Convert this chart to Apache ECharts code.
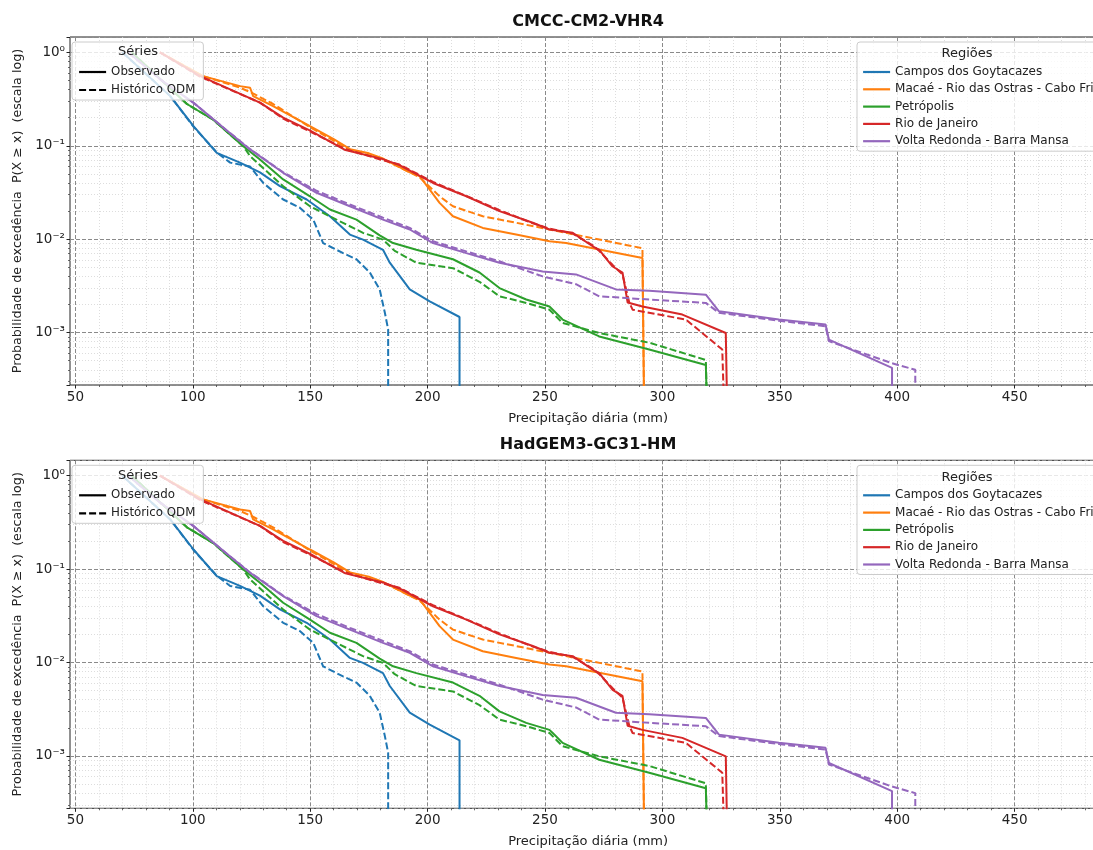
<!DOCTYPE html>
<html>
<head>
<meta charset="utf-8">
<script src="https://cdn.jsdelivr.net/npm/echarts@6/dist/echarts.min.js"></script>
<style>
  html, body { margin: 0; padding: 0; background: #fff; }
  #chart { width: 1093px; height: 850px; }
</style>
</head>
<body>
<div id="chart"></div>
<script>
// ---- labels ----
const panelTitles = ['CMCC-CM2-VHR4', 'HadGEM3-GC31-HM'];
const regions = [
  'Campos dos Goytacazes',
  'Macaé - Rio das Ostras - Cabo Frio',
  'Petrópolis',
  'Rio de Janeiro',
  'Volta Redonda - Barra Mansa'
];
const seriesKinds = ['Observado', 'Histórico QDM'];
const regionColors = ['#1f77b4', '#ff7f0e', '#2ca02c', '#d62728', '#9467bd'];
const xAxisTitle = 'Precipitação diária (mm)';
const yAxisTitle = 'Probabilidade de excedência  P(X \u2265 x)  (escala log)';

// ---- observed exceedance curves [precipitation mm, P(X >= x)] ----
const obsCampos = [[70,1.0],[90.4,0.34],[100.3,0.162],[110.2,0.084],[120.1,0.066],[128.6,0.052],[137.1,0.037],[148.5,0.0266],[158.4,0.0176],[166.9,0.0112],[172.5,0.0099],[181.0,0.0077],[183.9,0.0056],[192.4,0.0029],[200.9,0.00216],[213.6,0.00147],[213.6,1e-4]];
const obsMacae = [[86,1.0],[104.4,0.557],[120.1,0.435],[124.4,0.418],[125.7,0.34],[134.2,0.266],[149.9,0.162],[160,0.118],[167,0.092],[175,0.083],[181,0.073],[192.4,0.052],[196.6,0.0473],[200.9,0.034],[205.1,0.0245],[210.8,0.0176],[223.5,0.0132],[237.7,0.0112],[251.9,0.0095],[259,0.0091],[291.5,0.0063],[292.3,1e-4]];
const obsPetropolis = [[74,1.0],[97.5,0.28],[108.7,0.19],[121.5,0.099],[128.6,0.0714],[138.5,0.0436],[149.9,0.0288],[158.4,0.0208],[169.7,0.0162],[179.6,0.011],[185.3,0.0091],[195.2,0.0077],[210.8,0.0061],[222.1,0.0044],[230.6,0.003],[242,0.00226],[251.9,0.0019],[253.3,0.00176],[257.5,0.00138],[273.1,0.00091],[294.4,0.00066],[318.5,0.00045],[319.2,1e-4]];
const obsRio = [[86,1.0],[103,0.56],[128.6,0.29],[138.5,0.2],[150,0.145],[165,0.09],[181,0.072],[188,0.062],[202.3,0.04],[216.5,0.0288],[230.6,0.02],[244.8,0.015],[251.9,0.0127],[261.8,0.0117],[270.3,0.0084],[273.1,0.0077],[278.8,0.0051],[283,0.0044],[285.2,0.0021],[291.5,0.0019],[308.5,0.00156],[327,0.00099],[327.7,1e-4]];
const obsVolta = [[72.5,1.0],[86.1,0.514],[100.2,0.29],[114.5,0.146],[124.4,0.0914],[138.5,0.0514],[152.7,0.0314],[166.9,0.0225],[181,0.0162],[192.4,0.0127],[202.3,0.0091],[216.5,0.0071],[230.6,0.0056],[249,0.0045],[263.2,0.0042],[280.2,0.0029],[294.4,0.0028],[318.5,0.00255],[324.1,0.00169],[349.6,0.00138],[369.5,0.00122],[370.9,0.00084],[397.8,0.00042],[397.8,1e-4]];

// ---- QDM-corrected historical runs, CMCC-CM2-VHR4 ----
const qdmCmccCampos = [[70,1.0],[90.4,0.34],[100.3,0.16],[110.2,0.085],[115.9,0.066],[124.4,0.06],[130,0.04],[138.5,0.0266],[145.6,0.0217],[151.3,0.0162],[155.5,0.0091],[164,0.0071],[169.7,0.0061],[175.4,0.0044],[179.6,0.0029],[181.8,0.00163],[183.2,0.00108],[183.2,1e-4]];
const qdmCmccMacae = [[86,1.0],[104,0.56],[120,0.42],[125,0.37],[134.2,0.28],[149.9,0.158],[167,0.09],[181,0.072],[192.4,0.052],[196.6,0.046],[205.1,0.0288],[210.8,0.0225],[223.5,0.0176],[237.7,0.015],[251.9,0.0127],[259,0.0117],[291.5,0.008],[292.3,1e-4]];
const qdmCmccPetropolis = [[74,1.0],[97.5,0.28],[108.7,0.19],[121.5,0.099],[124.4,0.0774],[138.5,0.0369],[149.9,0.0225],[161.2,0.0162],[172.5,0.0117],[181,0.0099],[186,0.0075],[195.2,0.0056],[210.8,0.0049],[222.1,0.0035],[230.6,0.00245],[242,0.00208],[251.9,0.00176],[257.5,0.00127],[273.1,0.00099],[294.4,0.00078],[318.5,0.00051],[319.2,1e-4]];
const qdmCmccRio = [[86,1.0],[103,0.55],[128.6,0.29],[138.5,0.195],[150,0.142],[165,0.092],[181,0.07],[188,0.063],[202.3,0.041],[216.5,0.029],[230.6,0.0205],[244.8,0.0148],[251.9,0.013],[261.8,0.0115],[270.3,0.0086],[273.1,0.0075],[278.8,0.0053],[283,0.0042],[285.9,0.0021],[287.3,0.00176],[310,0.00138],[325.5,0.00066],[326.5,1e-4]];
const qdmCmccVolta = [[72.5,1.0],[86.1,0.514],[100.2,0.29],[114.5,0.146],[124.4,0.092],[138.5,0.052],[152.7,0.033],[166.9,0.0235],[181,0.017],[192.4,0.0132],[202.3,0.0095],[216.5,0.0074],[230.6,0.0058],[249,0.004],[263.2,0.0033],[273.1,0.00245],[294.4,0.00226],[318.5,0.00208],[324.1,0.00163],[349.6,0.00134],[369.5,0.00117],[370.9,0.00081],[397.8,0.00047],[407.7,0.0004],[407.7,1e-4]];

// ---- QDM-corrected historical runs, HadGEM3-GC31-HM ----
const qdmHadCampos = [[70,1.0],[90.4,0.34],[100.3,0.16],[110.2,0.085],[115.9,0.066],[124.4,0.06],[130,0.04],[138.5,0.0266],[145.6,0.0217],[151.3,0.0162],[155.5,0.0091],[164,0.0071],[169.7,0.0061],[175.4,0.0044],[179.6,0.0029],[181.8,0.00163],[183.2,0.00108],[183.2,1e-4]];
const qdmHadMacae = [[86,1.0],[104,0.56],[120,0.42],[125,0.37],[134.2,0.28],[149.9,0.158],[167,0.09],[181,0.072],[192.4,0.052],[196.6,0.046],[205.1,0.0288],[210.8,0.0225],[223.5,0.0176],[237.7,0.015],[251.9,0.0127],[259,0.0117],[291.5,0.008],[292.3,1e-4]];
const qdmHadPetropolis = [[74,1.0],[97.5,0.28],[108.7,0.19],[121.5,0.099],[124.4,0.0774],[138.5,0.0369],[149.9,0.0225],[161.2,0.0162],[172.5,0.0117],[181,0.0099],[186,0.0075],[195.2,0.0056],[210.8,0.0049],[222.1,0.0035],[230.6,0.00245],[242,0.00208],[251.9,0.00176],[257.5,0.00127],[273.1,0.00099],[294.4,0.00078],[318.5,0.00051],[319.2,1e-4]];
const qdmHadRio = [[86,1.0],[103,0.55],[128.6,0.29],[138.5,0.195],[150,0.142],[165,0.092],[181,0.07],[188,0.063],[202.3,0.041],[216.5,0.029],[230.6,0.0205],[244.8,0.0148],[251.9,0.013],[261.8,0.0115],[270.3,0.0086],[273.1,0.0075],[278.8,0.0053],[283,0.0042],[285.9,0.0021],[287.3,0.00176],[310,0.00138],[325.5,0.00066],[326.5,1e-4]];
const qdmHadVolta = [[72.5,1.0],[86.1,0.514],[100.2,0.29],[114.5,0.146],[124.4,0.092],[138.5,0.052],[152.7,0.033],[166.9,0.0235],[181,0.017],[192.4,0.0132],[202.3,0.0095],[216.5,0.0074],[230.6,0.0058],[249,0.004],[263.2,0.0033],[273.1,0.00245],[294.4,0.00226],[318.5,0.00208],[324.1,0.00163],[349.6,0.00134],[369.5,0.00117],[370.9,0.00081],[397.8,0.00047],[407.7,0.0004],[407.7,1e-4]];

const observed = [obsCampos, obsMacae, obsPetropolis, obsRio, obsVolta];
const qdmByPanel = [
  [qdmCmccCampos, qdmCmccMacae, qdmCmccPetropolis, qdmCmccRio, qdmCmccVolta],
  [qdmHadCampos, qdmHadMacae, qdmHadPetropolis, qdmHadRio, qdmHadVolta]
];

// ---- axis limits ----
const xLo = 47.7, xHi = 489;      // data frame
const xTickLo = 50, xTickHi = 500, xTickStep = 50;
const yLo = 2.75e-4, yHi = 1.46;

// ---- layout ----
const FONT = 'DejaVu Sans';
const pxPerMm = 2.348;
const plotLeft = 70;
const plotHeight = 348;
const panelTops = [37, 460.3];
const DASH = [7, 3];

const SUP = { '0': '\u2070', '1': '\u00b9', '2': '\u00b2', '3': '\u00b3', '4': '\u2074',
              '5': '\u2075', '6': '\u2076', '7': '\u2077', '8': '\u2078', '9': '\u2079', '-': '\u207b' };
function powerLabel(v) {
  const e = Math.log10(v);
  const r = Math.round(e);
  if (Math.abs(e - r) > 1e-6) return '';
  return '10' + String(r).split('').map(c => SUP[c]).join('');
}

const grids = [], xAxes = [], yAxes = [], series = [], legends = [], graphics = [];

panelTops.forEach((top, p) => {
  // frame grid carrying the data
  grids.push({
    left: plotLeft, top: top, height: plotHeight,
    width: (xHi - xLo) * pxPerMm, outerBoundsMode: 'none', containLabel: false,
    show: true, borderColor: '#222', borderWidth: 1, backgroundColor: 'transparent'
  });
  // companion grid carrying the precipitation ticks and vertical grid lines
  grids.push({
    left: plotLeft + (xTickLo - xLo) * pxPerMm, top: top, height: plotHeight,
    width: (xTickHi - xTickLo) * pxPerMm, outerBoundsMode: 'none', containLabel: false
  });

  xAxes.push({
    gridIndex: 2 * p, type: 'value', min: xLo, max: xHi,
    name: xAxisTitle, nameLocation: 'middle', nameGap: 27,
    nameTextStyle: { fontFamily: FONT, fontSize: 13, color: '#222' },
    axisLine: { show: false }, axisTick: { show: false },
    axisLabel: { show: false }, splitLine: { show: false }
  });
  xAxes.push({
    gridIndex: 2 * p + 1, type: 'value', min: xTickLo, max: xTickHi, interval: xTickStep,
    axisLine: { show: false },
    axisTick: { show: true, length: 3.5, lineStyle: { color: '#222', width: 1 } },
    minorTick: { show: true, splitNumber: 5, length: 2, lineStyle: { color: '#444', width: 0.8 } },
    axisLabel: {
      fontFamily: FONT, fontSize: 13.5, color: '#222', margin: 5,
      formatter: v => (v % 50 === 0 && v <= 450) ? String(v) : ''
    },
    splitLine: { show: true, lineStyle: { type: [4, 2], color: '#8a8a8a', width: 1 } },
    minorSplitLine: { show: true, lineStyle: { type: [1, 2], color: '#d4d4d4', width: 0.8 } }
  });

  yAxes.push({
    gridIndex: 2 * p, type: 'log', logBase: 10, min: yLo, max: yHi,
    name: yAxisTitle, nameLocation: 'middle', nameGap: 45,
    nameTextStyle: { fontFamily: FONT, fontSize: 12.7, color: '#222' },
    axisLine: { show: false },
    axisTick: { show: true, length: 3.5, lineStyle: { color: '#222', width: 1 } },
    minorTick: { show: true, splitNumber: 9, length: 2, lineStyle: { color: '#444', width: 0.8 } },
    axisLabel: { fontFamily: FONT, fontSize: 13.5, color: '#222', margin: 5, formatter: powerLabel },
    splitLine: { show: true, lineStyle: { type: [4, 2], color: '#8a8a8a', width: 1 } },
    minorSplitLine: { show: true, lineStyle: { type: [1, 2], color: '#d4d4d4', width: 0.8 } }
  });
  yAxes.push({ gridIndex: 2 * p + 1, type: 'value', show: false });

  // curves: observed (solid) and QDM (dashed) for each region
  regions.forEach((reg, r) => {
    series.push({
      name: reg + ' | ' + seriesKinds[0] + ' | ' + panelTitles[p],
      type: 'line', xAxisIndex: 2 * p, yAxisIndex: 2 * p,
      data: observed[r], symbol: 'none', clip: true,
      lineStyle: { color: regionColors[r], width: 2 }, z: 3
    });
    series.push({
      name: reg + ' | ' + seriesKinds[1] + ' | ' + panelTitles[p],
      type: 'line', xAxisIndex: 2 * p, yAxisIndex: 2 * p,
      data: qdmByPanel[p][r], symbol: 'none', clip: true,
      lineStyle: { color: regionColors[r], width: 2, type: DASH }, z: 3
    });
  });

  // legends (swatches are plain lines, no markers)
  const legendCommon = {
    orient: 'vertical', itemWidth: 27, itemHeight: 14,
    backgroundColor: 'rgba(255,255,255,0.8)', borderColor: '#cccccc', borderWidth: 1, borderRadius: 3,
    itemStyle: { color: 'rgba(0,0,0,0)', borderWidth: 0, opacity: 0 },
    lineStyle: { width: 2.2 },
    z: 10
  };
  legends.push(Object.assign({}, legendCommon, {
    left: 72, top: top + 5, padding: [24, 8, 4, 6], itemGap: 6,
    textStyle: { fontFamily: FONT, fontSize: 11.8, color: '#222' },
    data: seriesKinds.slice()
  }));
  legends.push(Object.assign({}, legendCommon, {
    left: 857, top: top + 5, padding: [24, 8, 4, 5], itemGap: 5.3,
    textStyle: { fontFamily: FONT, fontSize: 12, color: '#222' },
    data: regions.slice()
  }));

  graphics.push({
    type: 'text', x: plotLeft + (xHi - xLo) * pxPerMm / 2, y: top - 15, z: 100,
    style: { text: panelTitles[p], font: 'bold 16px "' + FONT + '"', fill: '#111',
             align: 'center', verticalAlign: 'middle' }
  });
  graphics.push({
    type: 'text', x: 138, y: top + 15, z: 100,
    style: { text: 'Séries', font: '13px "' + FONT + '"', fill: '#222', align: 'center', verticalAlign: 'middle' }
  });
  graphics.push({
    type: 'text', x: 967, y: top + 17, z: 100,
    style: { text: 'Regiões', font: '13px "' + FONT + '"', fill: '#222', align: 'center', verticalAlign: 'middle' }
  });
});

// empty series that only supply legend swatches
series.push({ name: seriesKinds[0], type: 'line', data: [], symbol: 'none',
              lineStyle: { color: '#000', width: 2 }, itemStyle: { color: '#000' } });
series.push({ name: seriesKinds[1], type: 'line', data: [], symbol: 'none',
              lineStyle: { color: '#000', width: 2, type: DASH }, itemStyle: { color: '#000' } });
regions.forEach((reg, r) => {
  series.push({ name: reg, type: 'line', data: [], symbol: 'none',
                lineStyle: { color: regionColors[r], width: 2 }, itemStyle: { color: regionColors[r] } });
});

const chart = echarts.init(document.getElementById('chart'), null, { renderer: 'canvas' });
chart.setOption({
  animation: false,
  backgroundColor: '#ffffff',
  textStyle: { fontFamily: FONT },
  grid: grids,
  xAxis: xAxes,
  yAxis: yAxes,
  legend: legends,
  graphic: graphics,
  series: series
});
</script>
</body>
</html>
